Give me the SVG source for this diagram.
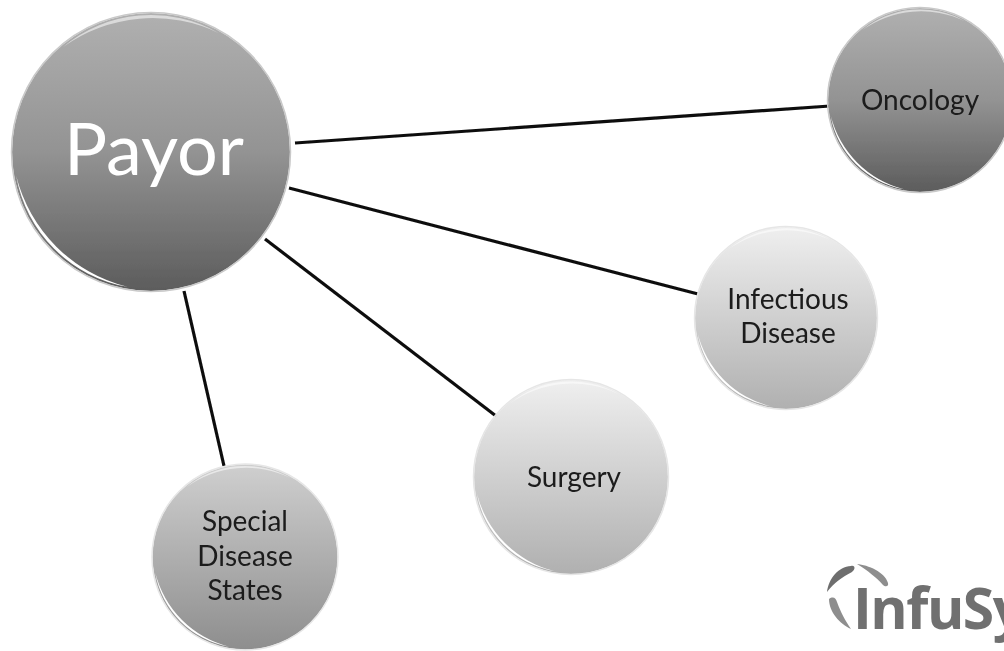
<svg xmlns="http://www.w3.org/2000/svg" xmlns:xlink="http://www.w3.org/1999/xlink" width="1004" height="651" viewBox="0 0 1004 651">
<style>
.l{font-family:Lato,"Noto Sans",sans-serif;font-size:28px;fill:#1a1a1a;text-anchor:middle}
.c{stroke:#0c0c0c;stroke-width:3.2;fill:none}
.rim{fill:none;stroke:#c9c9c9;stroke-width:1.5}
.rl{fill:none;stroke:#e6e6e6;stroke-width:1.5}
.hi{fill:#fff}
.top{fill:#fff;opacity:.55}
</style>
<defs>
<linearGradient id="dark" x1="0" y1="0" x2="0" y2="1"><stop offset="0" stop-color="#b0b0b0"/><stop offset=".5" stop-color="#939393"/><stop offset="1" stop-color="#5c5c5c"/></linearGradient>
<linearGradient id="mid" x1="0" y1="0" x2="0" y2="1"><stop offset="0" stop-color="#cfcfcf"/><stop offset="1" stop-color="#8e8e8e"/></linearGradient>
<linearGradient id="light" x1="0" y1="0" x2="0" y2="1"><stop offset="0" stop-color="#efefef"/><stop offset="1" stop-color="#b0b0b0"/></linearGradient>
<path id="cres" d="M-.97 .171A.985 .985 0 0 0 -.171 .97A1.1 1.1 0 0 1 -.97 .171Z"/>
<filter id="soft" x="-5%" y="-5%" width="110%" height="110%"><feGaussianBlur stdDeviation="0.6"/></filter>
</defs>
<rect width="1004" height="651" fill="#fff"/>
<g filter="url(#soft)">
<g id="connectors">
<line class="c" x1="295" y1="143" x2="830" y2="106"/>
<line class="c" x1="289" y1="188" x2="698" y2="294"/>
<line class="c" x1="265" y1="239" x2="496" y2="416"/>
<line class="c" x1="184" y1="291" x2="224" y2="466"/>
</g>
<g id="payor">
<circle cx="151" cy="152" r="139" fill="url(#dark)"/>
<circle class="rim" cx="151" cy="152" r="139.5"/>
<use xlink:href="#cres" href="#cres" class="hi" transform="translate(151 152) scale(139)"/>
<use xlink:href="#cres" href="#cres" class="top" transform="translate(151 152) rotate(130) scale(139)"/>
<text x="154" y="175" font-family="Lato,'Noto Sans',sans-serif" font-size="72" fill="#fff" text-anchor="middle">Payor</text>
</g>
<g id="oncology">
<circle cx="920" cy="100" r="92" fill="url(#dark)"/>
<circle class="rim" cx="920" cy="100" r="92.5"/>
<use xlink:href="#cres" href="#cres" class="hi" transform="translate(920 100) scale(92)"/>
<use xlink:href="#cres" href="#cres" class="top" transform="translate(920 100) rotate(130) scale(92)"/>
<text class="l" x="920" y="110">Oncology</text>
</g>
<g id="infectious">
<circle cx="786" cy="318" r="91" fill="url(#light)"/>
<circle class="rl" cx="786" cy="318" r="91.5"/>
<use xlink:href="#cres" href="#cres" class="hi" transform="translate(786 318) scale(91)"/>
<use xlink:href="#cres" href="#cres" class="top" transform="translate(786 318) rotate(130) scale(91)"/>
<text class="l" x="788" y="309">Infectious</text>
<text class="l" x="788" y="343">Disease</text>
</g>
<g id="surgery">
<circle cx="571" cy="477" r="97" fill="url(#light)"/>
<circle class="rl" cx="571" cy="477" r="97.5"/>
<use xlink:href="#cres" href="#cres" class="hi" transform="translate(571 477) scale(97)"/>
<use xlink:href="#cres" href="#cres" class="top" transform="translate(571 477) rotate(130) scale(97)"/>
<text class="l" x="574" y="487">Surgery</text>
</g>
<g id="special">
<circle cx="245" cy="557" r="92.5" fill="url(#mid)"/>
<circle class="rl" cx="245" cy="557" r="93"/>
<use xlink:href="#cres" href="#cres" class="hi" transform="translate(245 557) scale(92.5)"/>
<use xlink:href="#cres" href="#cres" class="top" transform="translate(245 557) rotate(130) scale(92.5)"/>
<text class="l" x="245" y="531">Special</text>
<text class="l" x="245" y="566">Disease</text>
<text class="l" x="245" y="600">States</text>
</g>
<g id="logo">
<path d="M827 592C829 578 838 567 851 566C856 565 855 570 852 572C842 577 834 583 827 592Z" fill="#6e6e6e"/>
<path d="M857 564C868 565 885 572 888 583C889 587 885 587 883 585C876 577 868 571 857 564Z" fill="#8e8e8e"/>
<path d="M829 599C833 596 836 598 837 602C841 613 845 620 851 629C840 624 829 612 829 599Z" fill="#8e8e8e"/>
<text x="853" y="629" font-family="'Open Sans','Noto Sans',sans-serif" font-weight="700" font-size="57" letter-spacing="-1.5" fill="#707070">InfuSy</text>
</g>
</g>
</svg>
